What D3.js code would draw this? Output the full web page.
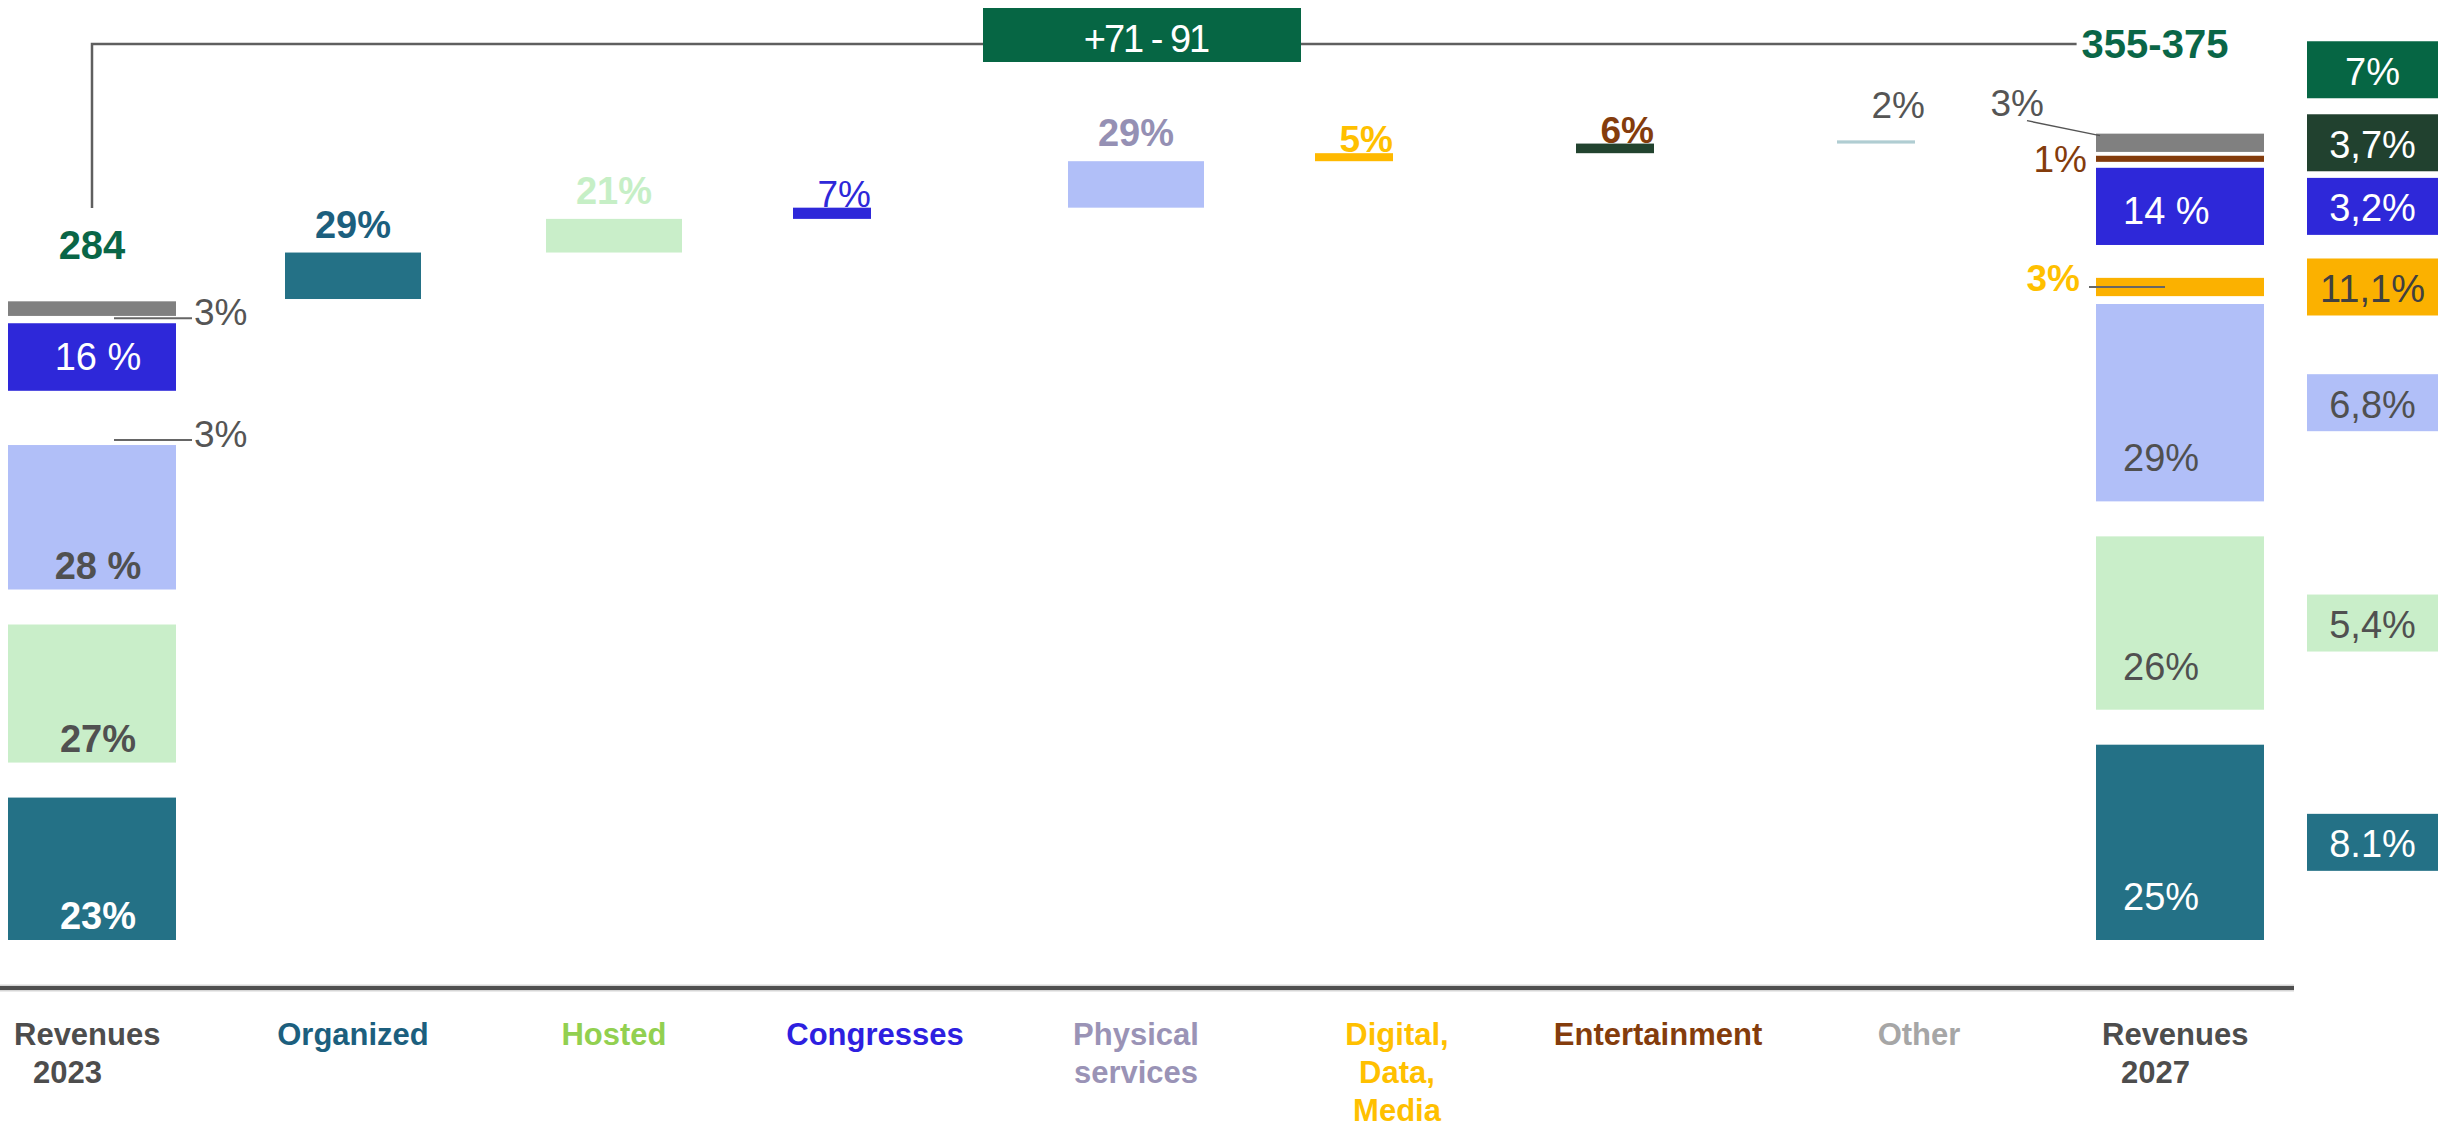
<!DOCTYPE html>
<html>
<head>
<meta charset="utf-8">
<script src="https://cdn.jsdelivr.net/npm/d3@7"></script>
<style>
  html, body { margin: 0; padding: 0; background: #fff; }
  svg { display: block; font-family: "Liberation Sans", Arial, Helvetica, sans-serif; }
</style>
</head>
<body>
<svg id="chart" width="2448" height="1129"></svg>
<script>
// ---- Data -------------------------------------------------------------
const categories = ["Revenues 2023", "Organized", "Hosted", "Congresses",
  "Physical services", "Digital, Data, Media", "Entertainment", "Other", "Revenues 2027"];
const categoryLines = [["Revenues", "2023"], ["Organized"], ["Hosted"], ["Congresses"],
  ["Physical", "services"], ["Digital,", "Data,", "Media"], ["Entertainment"], ["Other"], ["Revenues", "2027"]];

const revenue2023 = 284;
const growthRange = [71, 91];
const revenue2027Range = [355, 375];

// business lines, listed top of the column to bottom
const segments = ["Other", "Entertainment", "Congresses", "Digital", "Physical", "Hosted", "Organized"];
const share2023 = [3, 0, 16, 3, 28, 27, 23];
const share2027 = [3, 1, 14, 3, 29, 26, 25];
const label2023 = ["3%", "", "16 %", "3%", "28 %", "27%", "23%"];
const label2027 = ["3%", "1%", "14 %", "3%", "29%", "26%", "25%"];

// split of the 2023 -> 2027 growth
const growthSegments = ["Organized", "Hosted", "Congresses", "Physical", "Digital", "Entertainment", "Other"];
const growthShare = [29, 21, 7, 29, 5, 6, 2];
const growthLabel = ["29%", "21%", "7%", "29%", "5%", "6%", "2%"];

// annual growth rates shown at the right edge
const cagrKeys = ["Total", "Other", "Congresses", "Digital", "Physical", "Hosted", "Organized"];
const cagrLabels = ["7%", "3,7%", "3,2%", "11,1%", "6,8%", "5,4%", "8.1%"];

// ---- Styles -----------------------------------------------------------
const segFill = { Other: "#808080", Entertainment: "#843c0c", Congresses: "#2e28d9", Digital: "#fbb100",
  Physical: "#b1bff8", Hosted: "#c9eec9", Organized: "#247186" };
const growthFill = { Organized: "#247186", Hosted: "#c9eec9", Congresses: "#2e28d9", Physical: "#b1bff8",
  Digital: "#ffb900", Entertainment: "#22432f", Other: "#b0cdd2" };
const growthText = { Organized: "#1c5f7e", Hosted: "#c6efc6", Congresses: "#2e28d9", Physical: "#9590b4",
  Digital: "#ffc000", Entertainment: "#843c0c", Other: "#555555" };
const growthRegular = new Set(["Congresses", "Other"]);
const catColor = ["#4d4d4d", "#1c5f7e", "#92d050", "#2e1fe0", "#9a93b6", "#ffc000", "#843c0c", "#a6a6a6", "#4d4d4d"];
const cagrFill = { Total: "#066644", Other: "#21412f", Congresses: "#2e28d9", Digital: "#fbb100",
  Physical: "#b1bff8", Hosted: "#c9eec9", Organized: "#247186" };
const cagrText = { Total: "#fff", Other: "#fff", Congresses: "#fff", Digital: "#404040",
  Physical: "#505050", Hosted: "#505050", Organized: "#fff" };
const darkSeg = new Set(["Congresses", "Organized"]);
const green = "#0a6647";
const grey = "#555555";

// ---- Scales -----------------------------------------------------------
const svg = d3.select("#chart");
const x = d3.scalePoint().domain(categories).range([92, 2180]);
const y = d3.scaleLinear().domain([0, 400]).range([940, 37.2]);

const colWidth = 168, stepWidth = 136, thinWidth = 78;
const axisY = 988, bracketY = 44;

function stackColumn(total, shares, labels) {
  const out = [];
  let acc = 0;
  for (let i = segments.length - 1; i >= 0; i--) {
    const v = total * shares[i] / 100;
    out.push({ key: segments[i], share: shares[i], label: labels[i], v0: acc, v1: acc + v });
    acc += v;
  }
  return out;
}

// stacked segments are separated by white gaps; the lowest one rests on the base
function layoutBar(d) {
  const yb = y(d.v0), yt = y(d.v1);
  const h = yb - yt;
  if (h >= 40) {
    return { top: yt + 5, bottom: d.v0 === 0 ? yb : yb - 30, bandBottom: yb, bandTop: yt, h };
  }
  const inset = h * 0.12;
  return { top: yt + inset, bottom: yb - inset, bandBottom: yb, bandTop: yt, h };
}

const col2023 = stackColumn(revenue2023, share2023, label2023);
const col2027 = stackColumn(revenue2027Range[0], share2027, label2027);

// ---- Axis line ----------------------------------------------------------
svg.append("line").attr("x1", 0).attr("x2", 2294).attr("y1", axisY).attr("y2", axisY)
  .attr("stroke", "#d6d6d6").attr("stroke-width", 7);
svg.append("line").attr("x1", 0).attr("x2", 2294).attr("y1", axisY).attr("y2", axisY)
  .attr("stroke", "#4f4f4f").attr("stroke-width", 4);

// ---- Category labels ------------------------------------------------------
categories.forEach((c, i) => {
  const lines = categoryLines[i];
  const isTotal = i === 0 || i === categories.length - 1;
  const t = svg.append("text")
    .attr("font-size", 31).attr("font-weight", "bold").attr("fill", catColor[i])
    .attr("text-anchor", isTotal ? "start" : "middle");
  const x0 = isTotal ? x(c) - colWidth / 2 + 6 : x(c);
  lines.forEach((ln, j) => {
    t.append("tspan").attr("x", x0 + (isTotal && j > 0 ? 19 : 0)).attr("y", 1045 + j * 38).text(ln);
  });
});

// ---- Total columns ------------------------------------------------------
function drawColumn(cat, data, opts) {
  const cx = x(cat), left = cx - colWidth / 2, right = cx + colWidth / 2;
  const g = svg.append("g");
  data.forEach(d => {
    if (d.share <= 0) return;
    const b = layoutBar(d);
    d.bar = b;
    if (!opts.hidden.has(d.key)) {
      g.append("rect").attr("x", left).attr("width", colWidth)
        .attr("y", b.top).attr("height", b.bottom - b.top).attr("fill", segFill[d.key]);
    }
    if (b.h >= 40) {
      const lift = d.key === "Congresses" ? 21 : opts.labelLift;
      g.append("text")
        .attr("x", opts.inside === "middle" ? cx + 6 : left + 27)
        .attr("y", b.bottom - lift)
        .attr("text-anchor", opts.inside === "middle" ? "middle" : "start")
        .attr("font-size", 38)
        .attr("font-weight", opts.bold(d.key) ? "bold" : "normal")
        .attr("fill", darkSeg.has(d.key) ? "#fff" : "#505050")
        .text(d.label);
    } else {
      opts.note(g, d, b, left, right);
    }
  });
}

// 2023: small shares get a leader to the right
drawColumn(categories[0], col2023, {
  hidden: new Set(["Digital"]),
  inside: "middle",
  labelLift: 11,
  bold: k => k !== "Congresses",
  note: (g, d, b, left, right) => {
    const ly = b.bandBottom;
    g.append("line").attr("x1", left + 106).attr("x2", right + 16).attr("y1", ly).attr("y2", ly)
      .attr("stroke", "#666").attr("stroke-width", 2);
    g.append("text").attr("x", right + 18).attr("y", ly + 7).attr("font-size", 37)
      .attr("fill", grey).text(d.label);
  }
});

// 2027: small shares annotated on the left
drawColumn(categories[8], col2027, {
  hidden: new Set(),
  inside: "start",
  labelLift: 30,
  bold: () => false,
  note: (g, d, b, left) => {
    if (d.key === "Other") {
      const bx = left - 52, by = b.top - 18;
      g.append("line").attr("x1", bx - 17).attr("y1", by + 5).attr("x2", left + 4).attr("y2", b.top + 2)
        .attr("stroke", "#555").attr("stroke-width", 1.5);
      g.append("text").attr("x", bx).attr("y", by).attr("text-anchor", "end")
        .attr("font-size", 37).attr("fill", grey).text(d.label);
    } else if (d.key === "Entertainment") {
      g.append("text").attr("x", left - 9).attr("y", b.bottom + 10).attr("text-anchor", "end")
        .attr("font-size", 37).attr("fill", "#843c0c").text(d.label);
    } else if (d.key === "Digital") {
      const my = (b.top + b.bottom) / 2;
      g.append("line").attr("x1", left - 7).attr("x2", left + 69).attr("y1", my).attr("y2", my)
        .attr("stroke", "#666").attr("stroke-width", 2);
      g.append("text").attr("x", left - 16).attr("y", my + 4).attr("text-anchor", "end")
        .attr("font-size", 37).attr("font-weight", "bold").attr("fill", "#ffc000").text(d.label);
    }
  }
});

// ---- Growth steps -------------------------------------------------------------
let running = revenue2023;
growthSegments.forEach((k, i) => {
  const cat = categories[i + 1];
  const cx = x(cat);
  const v = growthRange[0] * growthShare[i] / 100;
  const yt = y(running + v), yb = y(running);
  running += v;
  const big = growthShare[i] >= 10;
  if (big) {
    svg.append("rect").attr("x", cx - stepWidth / 2).attr("width", stepWidth)
      .attr("y", yt).attr("height", yb - yt).attr("fill", growthFill[k]);
    svg.append("text").attr("x", cx).attr("y", yt - 15).attr("text-anchor", "middle")
      .attr("font-size", 38).attr("font-weight", "bold").attr("fill", growthText[k])
      .text(growthLabel[i]);
  } else {
    const x1 = cx - 82, x2 = x1 + thinWidth;
    const h = Math.max(3, yb - yt);
    svg.append("rect").attr("x", x1).attr("width", thinWidth)
      .attr("y", yt).attr("height", h).attr("fill", growthFill[k]);
    // the thinnest steps keep their label a little higher
    const ty = h < 5 ? yt - 22 : yt - 1;
    svg.append("text").attr("x", h < 5 ? x2 + 10 : x2).attr("y", ty).attr("text-anchor", "end")
      .attr("font-size", 37).attr("font-weight", growthRegular.has(k) ? "normal" : "bold")
      .attr("fill", growthText[k]).text(growthLabel[i]);
  }
});

// ---- Bracket with totals ----------------------------------------------------
const x23 = x(categories[0]), x27 = x(categories[8]);
const top23 = y(revenue2023);
const lab27 = svg.append("text").attr("x", x27 - 25).attr("y", bracketY + 14)
  .attr("text-anchor", "middle").attr("font-size", 40).attr("font-weight", "bold").attr("fill", green)
  .text(revenue2027Range[0] + "-" + revenue2027Range[1]);
const lab27Left = x27 - 25 - lab27.node().getComputedTextLength() / 2;

svg.append("path")
  .attr("d", `M${x23},${top23 - 91}V${bracketY}H${lab27Left - 5}`)
  .attr("fill", "none").attr("stroke", "#5f5f5f").attr("stroke-width", 2.5);

svg.append("text").attr("x", x23).attr("y", top23 - 40).attr("text-anchor", "middle")
  .attr("font-size", 40).attr("font-weight", "bold").attr("fill", green).text(revenue2023);

const boxCx = (x(categories[1]) + x(categories[7])) / 2 + 6;
svg.append("rect").attr("x", boxCx - 159).attr("y", bracketY - 36).attr("width", 318).attr("height", 54)
  .attr("fill", "#066644");
svg.append("text").attr("x", boxCx + 4).attr("y", bracketY + 8).attr("text-anchor", "middle")
  .attr("font-size", 38).attr("letter-spacing", -2).attr("fill", "#fff")
  .text("+" + growthRange[0] + " - " + growthRange[1]);

// ---- Growth-rate boxes ---------------------------------------------------------
const bar27 = {};
col2027.forEach(d => { if (d.bar) bar27[d.key] = (d.bar.top + d.bar.bottom) / 2; });
const top27 = y(d3.max(col2027, d => d.v1));
const boxH = 57, boxW = 131, boxX = 2307;
let prevBottom = -Infinity;
cagrKeys.forEach((k, i) => {
  let cy = k === "Total" ? top27 - 61 : bar27[k];
  if (cy - boxH / 2 < prevBottom + 6) cy = prevBottom + 6 + boxH / 2;
  prevBottom = cy + boxH / 2;
  svg.append("rect").attr("x", boxX).attr("y", cy - boxH / 2).attr("width", boxW).attr("height", boxH)
    .attr("fill", cagrFill[k]);
  svg.append("text").attr("x", boxX + boxW / 2).attr("y", cy + 15).attr("text-anchor", "middle")
    .attr("font-size", 38).attr("fill", cagrText[k]).text(cagrLabels[i]);
});
</script>
</body>
</html>
